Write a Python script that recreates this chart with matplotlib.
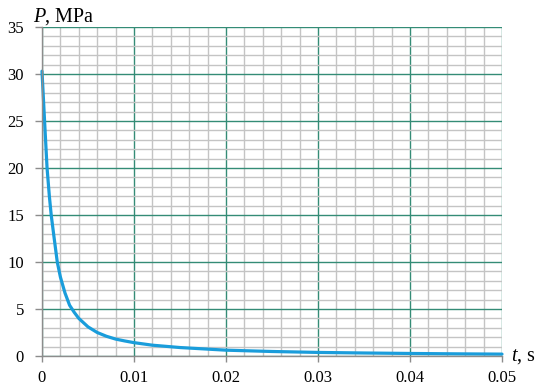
import matplotlib
matplotlib.use("Agg")
import matplotlib.pyplot as plt
from matplotlib.ticker import MultipleLocator

t_vals = [0, 0.0003, 0.00055, 0.0008, 0.001, 0.0013, 0.00166, 0.002, 0.0025, 0.003,
          0.0035, 0.004, 0.005, 0.006, 0.007, 0.008, 0.009, 0.01, 0.012, 0.015,
          0.02, 0.025, 0.03, 0.035, 0.04, 0.045, 0.05]
p_vals = [30.3, 24.6, 20.0, 17.0, 15.0, 12.7, 10.0, 8.4, 6.7, 5.4,
          4.65, 4.0, 3.1, 2.5, 2.1, 1.8, 1.6, 1.42, 1.15, 0.9,
          0.62, 0.48, 0.38, 0.32, 0.27, 0.23, 0.2]

x_ticks = [0, 0.01, 0.02, 0.03, 0.04, 0.05]
x_ticklabels = ["0", "0.01", "0.02", "0.03", "0.04", "0.05"]
y_ticks = [0, 5, 10, 15, 20, 25, 30, 35]

plt.rcParams['font.family'] = ['Liberation Serif', 'DejaVu Serif']

W, H = 536, 385
fig = plt.figure(figsize=(W / 100, H / 100), dpi=100)
ax = fig.add_axes([42 / W, (H - 356) / H, (502 - 42) / W, (356 - 27) / H])

ax.set_xlim(0, 0.05)
ax.set_ylim(0, 35)
ax.set_xticks(x_ticks)
ax.set_xticklabels(x_ticklabels)
ax.set_yticks(y_ticks)
ax.xaxis.set_minor_locator(MultipleLocator(0.002))
ax.yaxis.set_minor_locator(MultipleLocator(1))

ax.grid(which='minor', color='#c4c4c4', linewidth=1.0)
ax.grid(which='major', color='#348c76', linewidth=1.0)
ax.set_axisbelow(True)

for s in ['top', 'right']:
    ax.spines[s].set_visible(False)
for s in ['left', 'bottom']:
    ax.spines[s].set_color('#8c8c8c')
    ax.spines[s].set_linewidth(1.0)

ax.tick_params(which='major', axis='both', direction='out', color='#8c8c8c',
               labelsize=12, labelcolor='black', width=1.0)
ax.tick_params(which='major', axis='y', length=5, pad=8)
ax.tick_params(which='major', axis='x', length=4, pad=6)
ax.tick_params(which='minor', length=0)

ax.plot(t_vals, p_vals, color='#1a9ddb', linewidth=2.3, solid_capstyle='round',
        solid_joinstyle='round', clip_on=False)

fig.text(33 / W, (H - 22) / H, "P", fontsize=14.5, style='italic', ha='left', va='baseline')
fig.text(45 / W, (H - 22) / H, ", MPa", fontsize=14.5, ha='left', va='baseline')
fig.text(511 / W, (H - 361) / H, "t", fontsize=14.5, style='italic', ha='left', va='baseline')
fig.text(517 / W, (H - 361) / H, ", s", fontsize=14.5, ha='left', va='baseline')

fig.savefig("out.png", dpi=100)
